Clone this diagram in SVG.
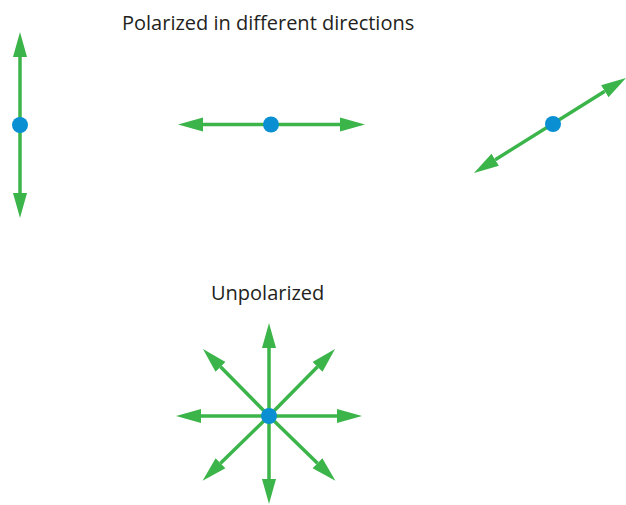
<svg xmlns="http://www.w3.org/2000/svg" width="626" height="505" viewBox="0 0 626 505">
<style>
.a{stroke:#3bb44a;stroke-width:3.5;fill:none;marker-end:url(#h)}
.b{stroke:#3bb44a;stroke-width:3.5;fill:none;marker-end:url(#h);marker-start:url(#h)}
.d{fill:#0a8fd3}
.t{font-family:"Open Sans",sans-serif;font-size:20px;fill:#231f20}
</style>
<defs>
<marker id="h" markerUnits="userSpaceOnUse" markerWidth="26" markerHeight="16" refX="0" refY="7" orient="auto-start-reverse" viewBox="0 0 26 14">
<path d="M0,0 L25,7 L0,14 Z" fill="#3bb44a"/>
</marker>
</defs>
<text class="t" x="122" y="30">Polarized in different directions</text>
<text class="t" x="211" y="300">Unpolarized</text>
<g id="connectors">
<line class="b" x1="20" y1="57" x2="20" y2="193"/>
<line class="b" x1="203" y1="124.5" x2="340" y2="124.5"/>
<line class="b" x1="495.2" y1="159.75" x2="604.8" y2="91.25"/>
<line class="a" x1="269" y1="416" x2="269" y2="348"/>
<line class="a" x1="269" y1="416" x2="269" y2="479"/>
<line class="a" x1="269" y1="416" x2="201" y2="416"/>
<line class="a" x1="269" y1="416" x2="337" y2="416"/>
<line class="a" x1="269" y1="416" x2="220.5" y2="366.8"/>
<line class="a" x1="269" y1="416" x2="317.5" y2="366.8"/>
<line class="a" x1="269" y1="416" x2="220.5" y2="463.2"/>
<line class="a" x1="269" y1="416" x2="317.5" y2="463.2"/>
</g>
<g id="vertical"><circle class="d" cx="20" cy="125" r="8"/></g>
<g id="horizontal"><circle class="d" cx="271" cy="124.5" r="8"/></g>
<g id="diagonal"><circle class="d" cx="553" cy="124" r="8"/></g>
<g id="unpolarized"><circle class="d" cx="269" cy="416" r="8"/></g>
</svg>
